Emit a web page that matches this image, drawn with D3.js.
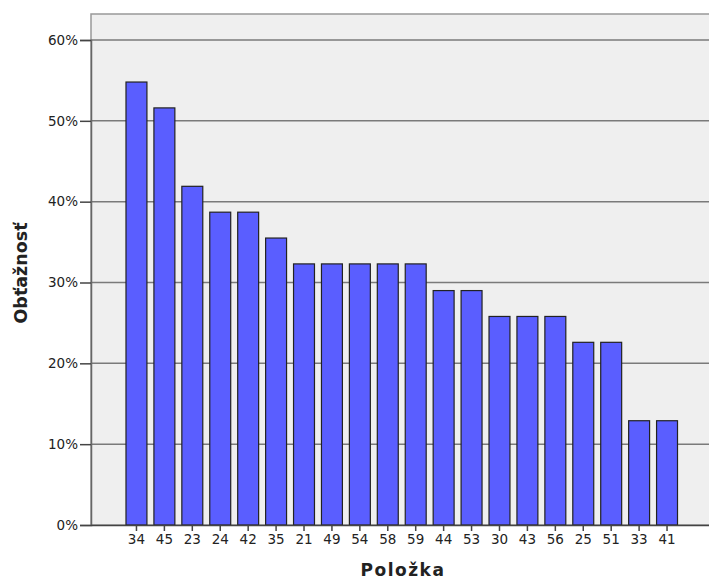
<!DOCTYPE html>
<html><head><meta charset="utf-8">
<script src="https://cdn.jsdelivr.net/npm/d3@7"></script>
<style>body{margin:0;background:#fff}svg{display:block}</style>
</head><body>
<script>
const categories = ["34","45","23","24","42","35","21","49","54","58","59","44","53","30","43","56","25","51","33","41"];
const values = [0.548,0.516,0.419,0.387,0.387,0.355,0.323,0.323,0.323,0.323,0.323,0.290,0.290,0.258,0.258,0.258,0.226,0.226,0.129,0.129];
const yTicks = [0,0.1,0.2,0.3,0.4,0.5,0.6];
const xTitle = "Položka";
const yTitle = "Obťažnosť";

(function(){
const W = 709, H = 581;
const svg = d3.select("body").append("svg").attr("width", W).attr("height", H);
const pL = 91, pT = 14, pR = 712, pB = 525;

const y = d3.scaleLinear().domain([0, 0.6]).range([pB, 40]);
const x = d3.scaleBand().domain(categories).range([122.5, 681]).paddingInner(0.25).paddingOuter(0.125);

svg.append("rect").attr("x", pL).attr("y", pT).attr("width", pR - pL).attr("height", pB - pT)
  .attr("fill", "#efefef").attr("stroke", "#999").attr("stroke-width", 1.5);

svg.append("g").selectAll("line").data(yTicks.filter(d => d > 0)).join("line")
  .attr("x1", pL).attr("x2", pR).attr("y1", d => y(d)).attr("y2", d => y(d))
  .attr("stroke", "#7a7a7a").attr("stroke-width", 1.5);

svg.append("g").selectAll("rect").data(values).join("rect")
  .attr("x", (d, i) => x(categories[i]))
  .attr("y", d => y(d))
  .attr("width", x.bandwidth())
  .attr("height", d => pB - y(d))
  .attr("fill", "#5a5eff").attr("stroke", "#222").attr("stroke-width", 1.2);

const yAxis = d3.axisLeft(y).tickValues(yTicks).tickFormat(d3.format(".0%")).tickSize(11).tickPadding(2);
const gy = svg.append("g").attr("transform", `translate(${pL},0)`).call(yAxis);
gy.select(".domain").attr("stroke", "#666").attr("stroke-width", 1.5);
gy.selectAll(".tick line").attr("stroke", "#444").attr("stroke-width", 1.5);
gy.selectAll("text").attr("font-family", "DejaVu Sans, sans-serif").attr("font-size", 13.5).attr("fill", "#222");

const xAxis = d3.axisBottom(x).tickSize(6).tickPadding(3).tickSizeOuter(0);
const gx = svg.append("g").attr("transform", `translate(0,${pB})`).call(xAxis);
gx.select(".domain").attr("d", `M${pL},0.5H${pR}`).attr("stroke", "#444").attr("stroke-width", 1.5);
gx.selectAll(".tick line").attr("stroke", "#444").attr("stroke-width", 1.5);
gx.selectAll("text").attr("font-family", "DejaVu Sans, sans-serif").attr("font-size", 13.5).attr("fill", "#222");

svg.append("text").attr("x", 403).attr("y", 576).attr("text-anchor", "middle")
  .attr("font-family", "DejaVu Sans, sans-serif").attr("font-weight", "bold").attr("font-size", 17)
  .attr("letter-spacing", 1.5).attr("fill", "#222").text(xTitle);
svg.append("text").attr("transform", "translate(27,273) rotate(-90)").attr("text-anchor", "middle")
  .attr("font-family", "DejaVu Sans, sans-serif").attr("font-weight", "bold").attr("font-size", 17.5)
  .attr("fill", "#222").text(yTitle);
})();
</script>
</body></html>
